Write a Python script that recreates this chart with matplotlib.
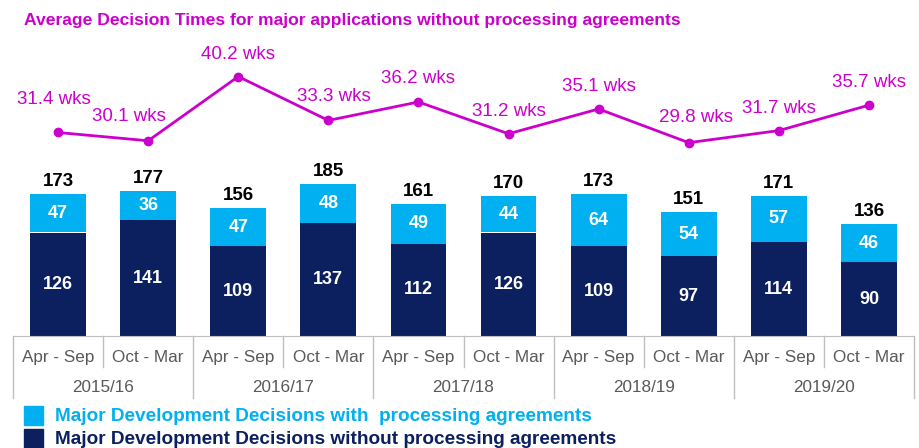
import matplotlib.pyplot as plt
import numpy as np

plt.rcParams['font.family'] = ['Liberation Sans', 'DejaVu Sans']

halves = ["Apr - Sep", "Oct - Mar"] * 5
years = ["2015/16", "2016/17", "2017/18", "2018/19", "2019/20"]
with_pa = [47, 36, 47, 48, 49, 44, 64, 54, 57, 46]
without_pa = [126, 141, 109, 137, 112, 126, 109, 97, 114, 90]
weeks = [31.4, 30.1, 40.2, 33.3, 36.2, 31.2, 35.1, 29.8, 31.7, 35.7]

light = '#00b0f0'
dark = '#0c1f5e'
magenta = '#cc00cc'
grey = '#bfbfbf'

W, H = 919, 448
fig = plt.figure(figsize=(W / 100, H / 100), dpi=100)
ax = fig.add_axes([13 / W, 1 - 336 / H, 901 / W, 276 / H])

x = np.arange(len(halves))
ax.bar(x, without_pa, width=0.62, color=dark, zorder=2)
ax.bar(x, with_pa, width=0.62, bottom=without_pa, color=light, zorder=2)
ax.set_xlim(-0.5, len(halves) - 0.5)
ax.set_ylim(0, 336)

for i in x:
    ax.text(i, without_pa[i] / 2, str(without_pa[i]), ha='center', va='center',
            color='white', fontsize=13, fontweight='bold')
    ax.text(i, without_pa[i] + with_pa[i] / 2, str(with_pa[i]), ha='center', va='center',
            color='white', fontsize=13, fontweight='bold')
    ax.annotate(str(without_pa[i] + with_pa[i]), (i, without_pa[i] + with_pa[i]),
                xytext=(0, 4), textcoords='offset pixels', ha='center', va='bottom',
                fontsize=13.5, fontweight='bold', color='black')

# line on its own scale
ax2 = ax.twinx()
ax2.set_ylim(-0.6, 42.8)
ax2.plot(x, weeks, color=magenta, lw=2, marker='o', ms=6, zorder=3)
# label nudges (pixels) to mimic the original placement
nudge = [(-4, 33), (-19, 24), (0, 22), (6, 24), (0, 23),
         (0, 22), (0, 22), (7, 25), (0, 22), (0, 23)]
for i in x:
    ax2.annotate(f"{weeks[i]} wks", (x[i], weeks[i]), xytext=nudge[i],
                 textcoords='offset pixels', ha='center', va='center',
                 fontsize=13.5, color=magenta)
ax2.axis('off')

for s in ['top', 'right', 'left']:
    ax.spines[s].set_visible(False)
ax.spines['bottom'].set_color(grey)
ax.set_yticks([])
ax.set_xticks([])

# category axis: half-years, years and separators
for i in x:
    ax.annotate(halves[i], (i, 0), xycoords=('data', 'axes fraction'),
                xytext=(0, -21), textcoords='offset pixels', ha='center', va='center',
                fontsize=12.3, color='#595959')
for k, yr in enumerate(years):
    ax.annotate(yr, (2 * k + 0.5, 0), xycoords=('data', 'axes fraction'),
                xytext=(0, -51), textcoords='offset pixels', ha='center', va='center',
                fontsize=12.3, color='#595959')

trans = ax.get_xaxis_transform()
for b in np.arange(-0.5, len(halves)):
    depth = 62 if (b + 0.5) % 2 == 0 else 31
    ax.plot([b, b], [0, -depth / 276], transform=trans, color=grey, lw=1, clip_on=False)

fig.text(24 / W, 1 - 20 / H, "Average Decision Times for major applications without processing agreements",
         ha='left', va='center', fontsize=12.6, fontweight='bold', color=magenta)

# legend
fig.patches.append(plt.Rectangle((24 / W, 1 - 425 / H), 19 / W, 19 / H, color=light,
                                 transform=fig.transFigure))
fig.patches.append(plt.Rectangle((24 / W, 1 - 448 / H), 19 / W, 19 / H, color=dark,
                                 transform=fig.transFigure))
fig.text(55 / W, 1 - 416 / H, "Major Development Decisions with  processing agreements",
         ha='left', va='center', fontsize=13.7, fontweight='bold', color=light)
fig.text(55 / W, 1 - 439 / H, "Major Development Decisions without processing agreements",
         ha='left', va='center', fontsize=13.7, fontweight='bold', color=dark)

fig.savefig('out.png', dpi=100)
